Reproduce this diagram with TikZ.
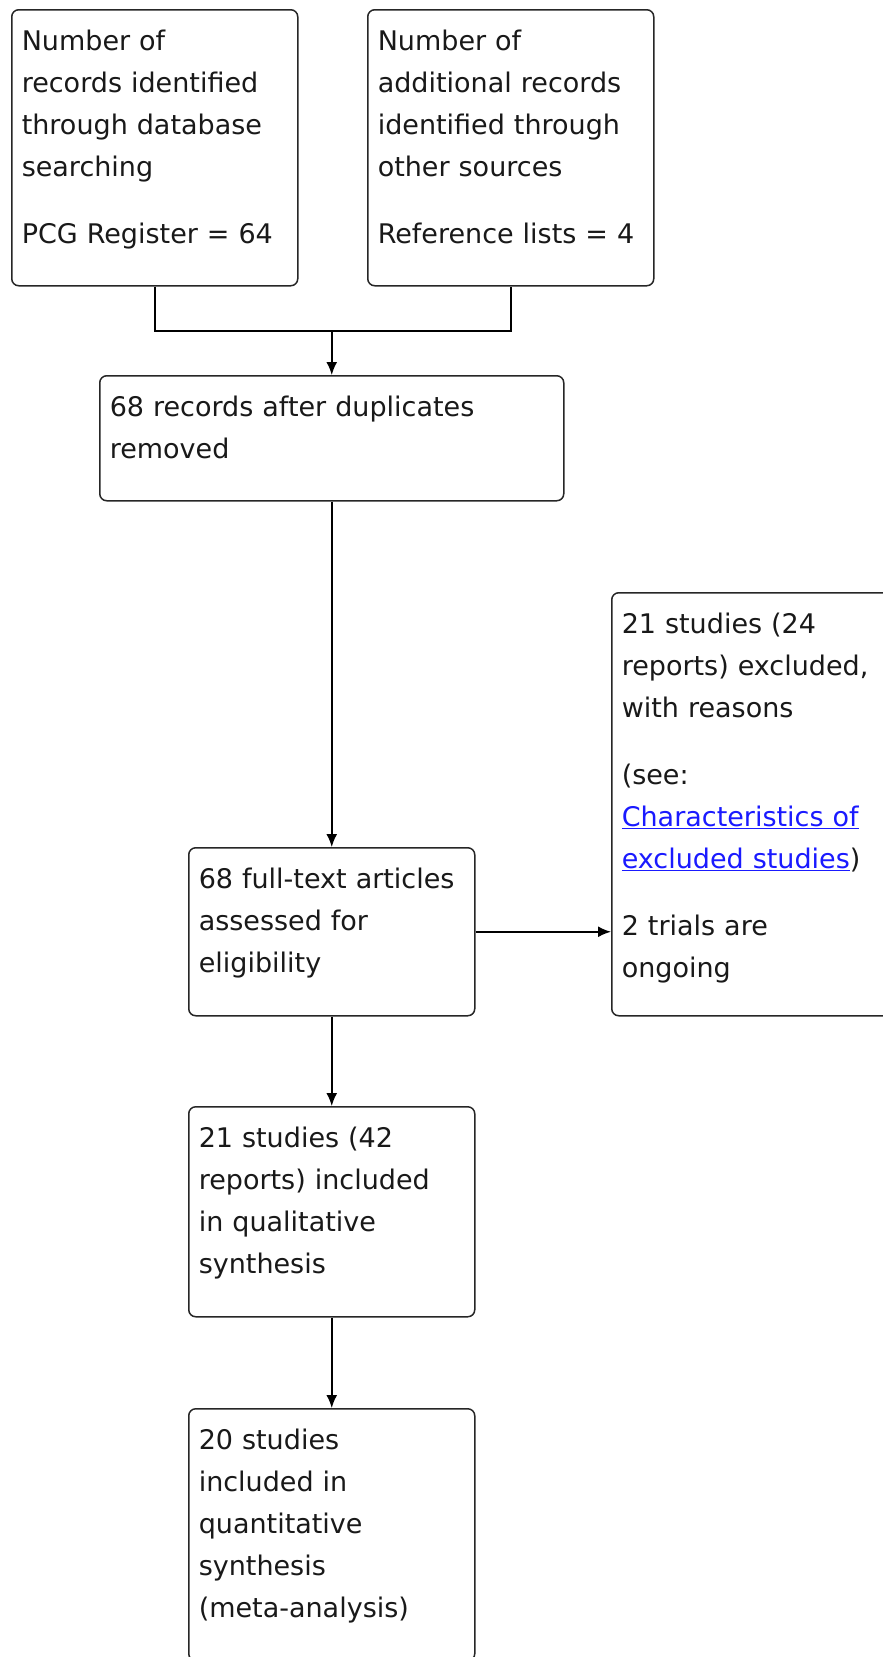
\documentclass[tikz,border=0pt]{standalone}
\usepackage{fontspec}
\setmainfont{DejaVu Sans}
\usetikzlibrary{arrows.meta}

\definecolor{linkblue}{RGB}{26,26,255}

\tikzset{
	stage/.style={draw=black!85, line width=1.5pt, rounded corners=7pt, anchor=north west,
		align=left, text width=266pt, inner xsep=10pt, inner ysep=11.5pt, text height=29.5pt,
		text=black!90, font=\fontsize{27pt}{42pt}\selectfont},
	flow/.style={line width=1.8pt, -{Latex[length=13pt,width=11pt]}},
	mergeline/.style={line width=1.8pt}
}

\begin{document}
	\begin{tikzpicture}[x=1pt, y=-1pt]
		\useasboundingbox (0,0) rectangle (883,1657);
		\fill[white] (0,0) rectangle (883,1657);
		
		% identification
		\node[stage, text depth=223.5pt] (database) at (11,9) {Number of\\records identified\\through database\\searching\\[25pt]PCG Register = 64};
		\node[stage, text depth=223.5pt] (othersrc) at (367,9) {Number of\\additional records\\identified through\\other sources\\[25pt]Reference lists = 4};
		
		% screening
		\node[stage, text width=444pt, text depth=72.5pt] (dedup) at (99,375) {68 records after duplicates\\removed};
		\node[stage, text depth=115.5pt] (fulltext) at (188,847) {68 full-text articles\\assessed for\\eligibility};
		\node[stage, text depth=370.5pt] (excluded) at (611,592) {21 studies (24\\reports) excluded,\\with reasons\\[25pt](see:\\\textcolor{linkblue}{\underline{Characteristics of}}\\\textcolor{linkblue}{\underline{excluded studies}})\\[25pt]2 trials are\\ongoing};
		
		% included
		\node[stage, text depth=157.5pt] (qualit) at (188,1106) {21 studies (42\\reports) included\\in qualitative\\synthesis};
		\node[stage, text depth=199.5pt] (quantit) at (188,1408) {20 studies\\included in\\quantitative\\synthesis\\(meta-analysis)};
		
		\coordinate (merge) at (dedup.north |- 0,331);
		\draw[mergeline] (database.south) |- (merge) -| (othersrc.south);
		\draw[flow] (merge) -- (dedup.north);
		\draw[flow] (dedup.south) -- (fulltext.north);
		\draw[flow] (fulltext.east) -- (fulltext.east -| excluded.west);
		\draw[flow] (fulltext.south) -- (qualit.north);
		\draw[flow] (qualit.south) -- (quantit.north);
	\end{tikzpicture}
\end{document}
